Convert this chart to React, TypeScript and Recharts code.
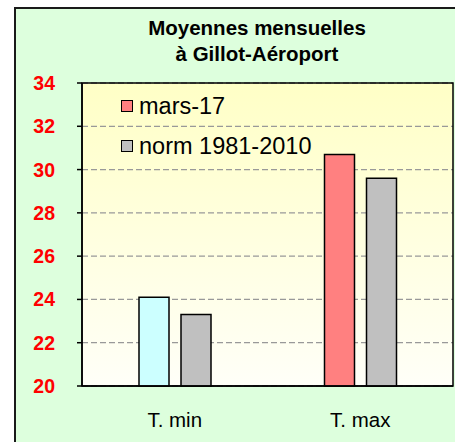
import { Bar, BarChart, CartesianGrid, Cell, Legend, ReferenceArea, XAxis, YAxis } from "recharts";

const categories = ["T. min", "T. max"];
const mars17 = [24.1, 30.7];
const norm = [23.3, 29.6];
const marsColors = ["#CCFFFF", "#FF8080"];
const yTicks = [20, 22, 24, 26, 28, 30, 32, 34];
const legendItems = [
  { label: "mars-17", color: "#FF8080" },
  { label: "norm 1981-2010", color: "#C0C0C0" },
];

const data = categories.map((name, i) => ({ name, mars: mars17[i], norm: norm[i] }));

const FONT = "'Liberation Sans', Arial, sans-serif";

function YTick({ x, y, payload }: any) {
  return (
    <text x={x} y={y} dy="0.36em" textAnchor="end" fill="#FF0000" fontFamily={FONT} fontWeight="bold" fontSize={19.5}>
      {payload.value}
    </text>
  );
}

function XTick({ x, y, payload }: any) {
  return (
    <text x={x} y={y} dy="0.72em" textAnchor="middle" fill="#000" fontFamily={FONT} fontSize={20.5}>
      {payload.value}
    </text>
  );
}

function LegendBox() {
  return (
    <div style={{ fontFamily: FONT, fontSize: 23.5, color: "#000" }}>
      {legendItems.map((it) => (
        <div key={it.label} style={{ display: "flex", alignItems: "center", height: 40 }}>
          <span
            style={{
              display: "inline-block", width: 10, height: 10, background: it.color,
              border: "1.5px solid #000", marginRight: 6,
            }}
          />
          <span>{it.label}</span>
        </div>
      ))}
    </div>
  );
}

export default function App() {
  return (
    <div style={{ position: "absolute", left: 0, top: 0, width: 455, height: 442, overflow: "hidden", background: "#fff" }}>
      <div
        style={{
          position: "absolute", left: 14, top: 7, width: 470, height: 460,
          background: "#DDFFDD", border: "2px solid #1a1a1a",
        }}
      />
      <div
        style={{
          position: "absolute", left: 0, top: 15, width: 514, textAlign: "center",
          fontFamily: FONT, fontWeight: "bold", fontSize: 20.5, lineHeight: "26px", color: "#000",
        }}
      >
        Moyennes mensuelles
        <br />à Gillot-Aéroport
      </div>
      <div style={{ position: "absolute", left: 0, top: 0 }}>
        <BarChart width={455} height={442} data={data} margin={{ top: 83, right: 2, bottom: 0, left: 22 }} barSize={30} barGap={12}>
          <defs>
            <linearGradient id="plotBg" x1="0" y1="0" x2="0" y2="1">
              <stop offset="0%" stopColor="#FFFFC6" />
              <stop offset="100%" stopColor="#FFFFF8" />
            </linearGradient>
          </defs>
          <CartesianGrid vertical={false} fill="url(#plotBg)" fillOpacity={1} stroke="#999" strokeWidth={1.3} strokeDasharray="6 3" />
          <XAxis dataKey="name" height={56} tickLine={false} tickSize={0} tickMargin={26} axisLine={{ stroke: "#000", strokeWidth: 1.5 }} tick={<XTick />} />
          <YAxis
            domain={[20, 34]}
            ticks={yTicks}
            width={60}
            tickSize={5}
            tickMargin={22}
            interval={0}
            tickLine={{ stroke: "#000", strokeWidth: 1.5 }}
            axisLine={{ stroke: "#000", strokeWidth: 1.5 }}
            tick={<YTick />}
          />
          <ReferenceArea y1={20} y2={34} fill="none" stroke="#000" strokeWidth={1.5} />
          <Legend
            layout="vertical"
            align="center"
            verticalAlign="middle"
            content={() => <LegendBox />}
            wrapperStyle={{ position: "absolute", left: 121, top: 86, width: "auto" }}
          />
          <Bar dataKey="mars" name="mars-17" stroke="#000" strokeWidth={1.5} isAnimationActive={false}>
            {data.map((d, i) => (
              <Cell key={d.name} fill={marsColors[i]} />
            ))}
          </Bar>
          <Bar dataKey="norm" name="norm 1981-2010" fill="#C0C0C0" stroke="#000" strokeWidth={1.5} isAnimationActive={false} />
        </BarChart>
      </div>
    </div>
  );
}
